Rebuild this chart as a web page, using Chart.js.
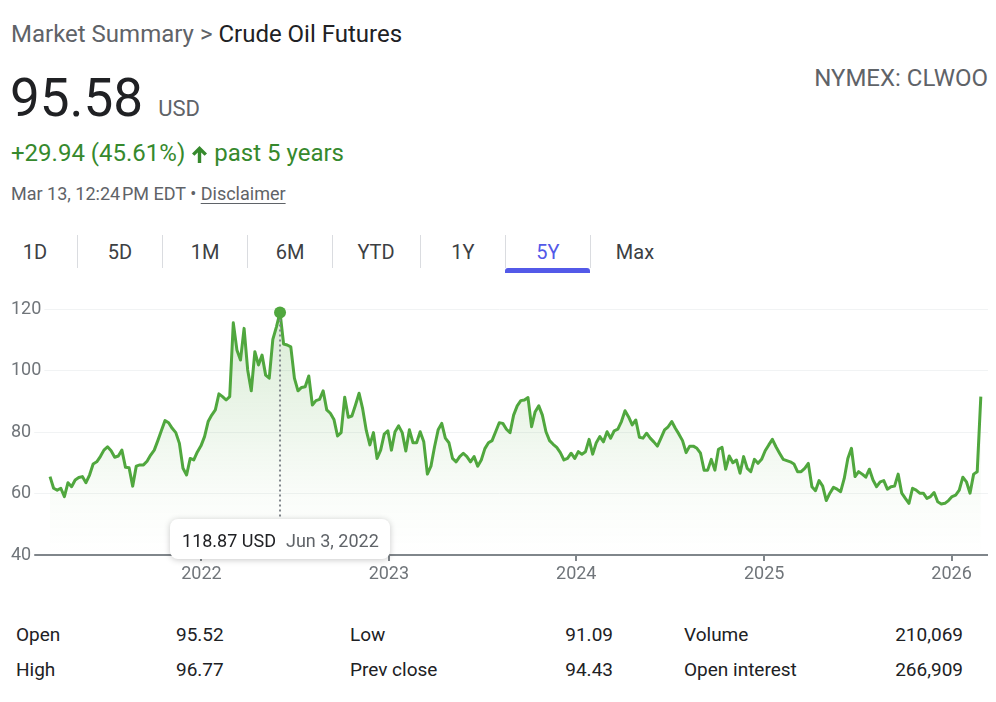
<!DOCTYPE html>
<html>
<head>
<meta charset="utf-8">
<title>Crude Oil Futures</title>
<script src="https://cdn.jsdelivr.net/npm/chart.js@4.4.1/dist/chart.umd.min.js"></script>
<style>
    body {
        margin: 0;
        width: 996px;
        height: 702px;
        background: #fff;
        font-family: Roboto, Arial, sans-serif;
        position: relative;
        overflow: hidden;
        color: #202124;
    }
    .abs { position: absolute; white-space: nowrap; line-height: 1; }
    .crumb { left: 11px; top: 22px; font-size: 24px; color: #5f6368; }
    .crumb b { font-weight: 400; color: #202124; }
    .price { left: 10px; top: 72px; font-size: 53px; color: #202124; }
    .price span { font-size: 22px; color: #5f6368; margin-left: 15px; }
    .ticker { right: 8px; top: 66px; font-size: 24px; color: #5f6368; }
    .change { left: 11px; top: 141px; font-size: 24px; color: #36892d; }
    .change svg { vertical-align: -2px; margin: 0 7px 0 7px; }
    .stamp { left: 11px; top: 185px; font-size: 18px; color: #5f6368; }
    .stamp u { color: #5f6368; text-underline-offset: 3px; }
    .tab { top: 242px; font-size: 20px; color: #3c4043; transform: translateX(-50%); }
    .tab.on { color: #5359e8; }
    .sep { top: 235px; width: 1px; height: 33px; background: #dadce0; }
    .bar { left: 505px; top: 268px; width: 85px; height: 5px; background: #5359e8; border-radius: 3px 3px 0 0; }
    #chartBox { position: absolute; left: 0; top: 290px; width: 996px; height: 310px; }
    .st { font-size: 19px; color: #202124; }
    .r { text-align: right; }
</style>
</head>
<body>

<div class="abs crumb">Market Summary &gt; <b>Crude Oil Futures</b></div>
<div class="abs price">95.58<span>USD</span></div>
<div class="abs ticker">NYMEX: CLWOO</div>
<div class="abs change">+29.94 (45.61%)<svg width="15" height="17" viewBox="0 0 15 17"><path d="M7.5 0 L15 7.5 L12.6 9.8 L9.2 6.4 L9.2 17 L5.8 17 L5.8 6.4 L2.4 9.8 L0 7.5 Z" fill="#36892d"/></svg>past 5 years</div>
<div class="abs stamp">Mar 13, 12:24&#8202;PM EDT &bull; <u>Disclaimer</u></div>

<div class="abs tab" style="left:35px">1D</div>
<div class="abs sep" style="left:77px"></div>
<div class="abs tab" style="left:120px">5D</div>
<div class="abs sep" style="left:162px"></div>
<div class="abs tab" style="left:205px">1M</div>
<div class="abs sep" style="left:247px"></div>
<div class="abs tab" style="left:290px">6M</div>
<div class="abs sep" style="left:332px"></div>
<div class="abs tab" style="left:376px">YTD</div>
<div class="abs sep" style="left:420px"></div>
<div class="abs tab" style="left:463px">1Y</div>
<div class="abs sep" style="left:505px"></div>
<div class="abs tab on" style="left:548px">5Y</div>
<div class="abs sep" style="left:590px"></div>
<div class="abs tab" style="left:635px">Max</div>
<div class="abs bar"></div>

<div id="chartBox"><canvas id="myChart"></canvas></div>

<div class="abs st" style="left:16px; top:625px">Open</div>
<div class="abs st" style="left:176px; top:625px">95.52</div>
<div class="abs st" style="left:350px; top:625px">Low</div>
<div class="abs st r" style="right:383px; top:625px">91.09</div>
<div class="abs st" style="left:684px; top:625px">Volume</div>
<div class="abs st r" style="right:33px; top:625px">210,069</div>
<div class="abs st" style="left:16px; top:660px">High</div>
<div class="abs st" style="left:176px; top:660px">96.77</div>
<div class="abs st" style="left:350px; top:660px">Prev close</div>
<div class="abs st r" style="right:383px; top:660px">94.43</div>
<div class="abs st" style="left:684px; top:660px">Open interest</div>
<div class="abs st r" style="right:33px; top:660px">266,909</div>

<script>
// Weekly closes (USD), first week = Mar 12, 2021
const closePrices = [
    65.5, 61.7, 61.1, 61.7, 59.0, 63.5, 62.2, 64.4, 65.2, 65.5,
    63.5, 66.0, 69.6, 70.3, 72.0, 74.1, 75.2, 73.9, 71.8, 72.2,
    74.1, 68.5, 68.4, 62.4, 68.9, 69.3, 69.3, 70.5, 72.5, 74.1,
    77.2, 80.5, 83.7, 83.0, 81.2, 79.8, 76.3, 68.2, 66.0, 71.4,
    70.9, 73.5, 75.5, 78.5, 83.4, 85.5, 87.2, 92.4, 91.5, 90.4,
    91.5, 115.5, 106.7, 103.4, 113.7, 100.2, 93.4, 106.1, 101.8, 105.0,
    98.5, 97.5, 110.1, 114.2, 118.87, 108.6, 108.3, 107.7, 97.5, 93.4,
    94.5, 94.7, 98.2, 88.8, 90.2, 90.6, 93.4, 87.2, 86.1, 84.1,
    78.7, 79.8, 91.3, 84.8, 85.2, 88.8, 92.6, 87.5, 80.5, 75.8,
    79.8, 71.4, 74.1, 79.3, 80.4, 74.1, 80.1, 82.0, 79.8, 73.8,
    80.7, 76.5, 76.5, 80.1, 76.8, 66.3, 68.9, 75.2, 80.7, 82.8,
    78.0, 76.5, 71.4, 70.3, 72.0, 73.1, 72.0, 70.3, 72.0, 68.9,
    70.9, 74.6, 76.5, 77.2, 80.1, 83.0, 82.8, 80.9, 79.8, 85.5,
    88.5, 90.2, 90.4, 91.2, 81.7, 86.6, 88.5, 85.5, 80.1, 77.2,
    76.0, 75.0, 73.3, 70.9, 71.4, 73.1, 71.4, 73.6, 72.8, 73.6,
    77.6, 72.8, 76.5, 78.5, 76.8, 80.1, 78.0, 80.4, 80.9, 83.4,
    86.9, 84.9, 82.3, 83.9, 78.3, 78.0, 79.6, 78.0, 76.8, 75.4,
    78.0, 80.7, 81.7, 83.4, 81.2, 79.3, 77.2, 73.3, 75.4, 75.4,
    74.7, 73.1, 67.6, 67.6, 71.1, 67.6, 74.4, 75.0, 67.9, 72.2,
    70.0, 70.9, 66.6, 72.0, 68.2, 67.1, 71.1, 69.8, 71.1, 73.9,
    75.8, 77.6, 75.2, 73.1, 71.1, 70.7, 70.3, 69.6, 67.1, 67.1,
    68.2, 69.8, 62.2, 60.9, 64.2, 62.4, 57.7, 60.1, 62.0, 61.4,
    60.6, 64.9, 71.4, 74.7, 65.5, 67.1, 66.3, 65.3, 67.9, 64.4,
    62.2, 63.8, 64.2, 61.4, 62.2, 62.4, 66.3, 60.1, 58.4, 56.8,
    61.7, 61.1, 60.1, 60.1, 58.4, 59.0, 60.3, 57.3, 56.6, 56.8,
    57.7, 59.0, 59.5, 61.1, 65.3, 63.8, 60.1, 66.3, 67.1, 91.5
];
const yTicks = [40, 60, 80, 100, 120];
const yearTicks = [2022, 2023, 2024, 2025, 2026];
const monthNames = ['Jan', 'Feb', 'Mar', 'Apr', 'May', 'Jun', 'Jul', 'Aug', 'Sep', 'Oct', 'Nov', 'Dec'];

const DAY = 86400000;
const firstWeek = Date.UTC(2021, 2, 12);
const lineGreen = 'rgb(80, 167, 62)';

// one point per week
let points = closePrices.map((v, i) => ({ x: firstWeek + i * 7 * DAY, y: v }));
let peakIndex = closePrices.indexOf(Math.max(...closePrices));

function fmtDate(ms) {
    let d = new Date(ms);
    return monthNames[d.getUTCMonth()] + ' ' + d.getUTCDate() + ', ' + d.getUTCFullYear();
}

// dotted hover line + tooltip box on the highest week
const peakTooltip = {
    id: 'peakTooltip',
    afterDraw: function(chart) {
        let pt = chart.getDatasetMeta(0).data[peakIndex];
        let ctx = chart.ctx;
        let boxW = 220, boxH = 40;
        let boxTop = chart.chartArea.bottom - 36;
        let boxLeft = pt.x - boxW / 2;

        ctx.save();
        ctx.setLineDash([2, 3]);
        ctx.strokeStyle = '#80868b';
        ctx.lineWidth = 2;
        ctx.beginPath();
        ctx.moveTo(pt.x, pt.y + 7);
        ctx.lineTo(pt.x, boxTop);
        ctx.stroke();
        ctx.setLineDash([]);

        ctx.shadowColor = 'rgba(0, 0, 0, 0.22)';
        ctx.shadowBlur = 6;
        ctx.shadowOffsetY = 1;
        ctx.fillStyle = '#fff';
        ctx.beginPath();
        ctx.roundRect(boxLeft, boxTop, boxW, boxH, 8);
        ctx.fill();
        ctx.shadowColor = 'transparent';

        let p = points[peakIndex];
        let valueText = p.y.toFixed(2) + ' USD';
        ctx.font = '18px Roboto, Arial, sans-serif';
        ctx.textBaseline = 'alphabetic';
        ctx.fillStyle = '#202124';
        ctx.fillText(valueText, boxLeft + 12, boxTop + 28);
        let w = ctx.measureText(valueText).width;
        ctx.fillStyle = '#5f6368';
        ctx.fillText(fmtDate(p.x), boxLeft + 12 + w + 10, boxTop + 28);
        ctx.restore();
    }
};

function drawChart() {
    let ctx = document.getElementById('myChart');
    new Chart(ctx, {
        type: 'line',
        data: {
            datasets: [{
                data: points,
                borderColor: lineGreen,
                borderWidth: 3,
                borderJoinStyle: 'round',
                tension: 0,
                clip: false,
                fill: 'start',
                backgroundColor: function(c) {
                    let area = c.chart.chartArea;
                    if (!area) {
                        return 'transparent';
                    }
                    let g = c.chart.ctx.createLinearGradient(0, area.top, 0, area.bottom);
                    g.addColorStop(0, 'rgba(80, 167, 62, 0.22)');
                    g.addColorStop(0.75, 'rgba(80, 167, 62, 0.03)');
                    g.addColorStop(1, 'rgba(80, 167, 62, 0)');
                    return g;
                },
                pointRadius: (c) => c.dataIndex === peakIndex ? 6 : 0,
                pointBackgroundColor: lineGreen,
                pointBorderWidth: 0
            }]
        },
        options: {
            responsive: true,
            maintainAspectRatio: false,
            animation: false,
            events: [],
            layout: {
                padding: { left: 11, right: 8, top: 19, bottom: 5 }
            },
            plugins: {
                legend: { display: false },
                tooltip: { enabled: false }
            },
            scales: {
                x: {
                    type: 'linear',
                    min: firstWeek - 76 * DAY,
                    max: firstWeek + 1827 * DAY,
                    afterBuildTicks: (s) => { s.ticks = yearTicks.map(y => ({ value: Date.UTC(y, 0, 1) })); },
                    afterFit: (s) => { s.height = 40; },
                    border: { display: false },
                    grid: {
                        drawOnChartArea: false,
                        drawTicks: true,
                        tickLength: 6,
                        color: '#80868b',
                        lineWidth: 2
                    },
                    ticks: {
                        callback: (v) => new Date(v).getUTCFullYear(),
                        color: '#70757a',
                        font: { family: 'Roboto', size: 18 },
                        padding: 3,
                        maxRotation: 0,
                        autoSkip: false
                    }
                },
                y: {
                    min: 40,
                    max: 120,
                    afterBuildTicks: (s) => { s.ticks = yTicks.map(v => ({ value: v })); },
                    border: { display: false },
                    grid: {
                        drawTicks: false,
                        color: (c) => c.tick && c.tick.value === 40 ? '#80868b' : '#f1f3f4',
                        lineWidth: (c) => c.tick && c.tick.value === 40 ? 2 : 1
                    },
                    ticks: {
                        mirror: true,
                        padding: 0,
                        color: '#70757a',
                        font: { family: 'Roboto', size: 18 },
                        showLabelBackdrop: true,
                        backdropColor: '#fff',
                        backdropPadding: { top: 1, bottom: 1, left: 0, right: 3 }
                    }
                }
            }
        },
        plugins: [peakTooltip]
    });
}

document.addEventListener('DOMContentLoaded', drawChart);
</script>
</body>
</html>
